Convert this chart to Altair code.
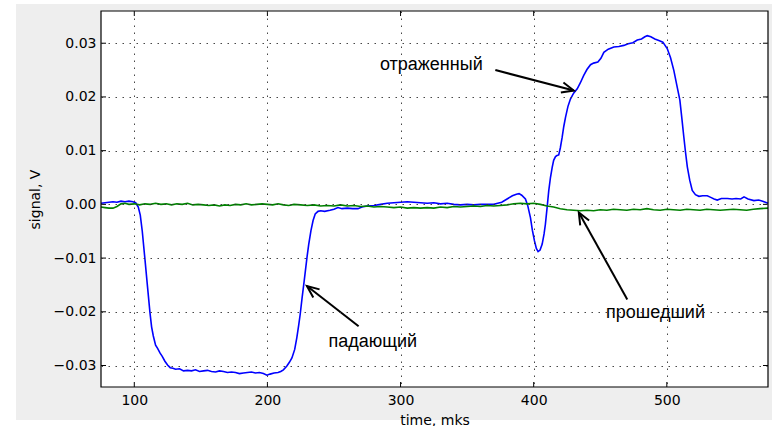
import math
import altair as alt
import pandas as pd

# ---- data ----
blue_t = [75, 78, 81, 84, 87, 90, 93, 96, 99, 101, 103, 104.5, 106, 108, 110, 111.8, 113, 114.3, 116, 117.5,
          119.4, 121, 123, 125, 127, 129, 131, 134, 137, 140, 143, 146, 149, 152, 155, 158, 161, 164, 167, 170,
          173, 176, 179, 182, 185, 188, 191, 194, 197, 199.6, 202, 205, 208, 210, 212, 214.6, 216.5, 218.4, 220.5, 222.1,
          223.5, 224.6, 226, 227.6, 229.7, 231, 232.7, 234.3, 235.9, 238, 240, 243, 247, 250, 253, 256, 260, 264, 268, 271,
          275, 280, 285, 290, 295, 300, 305, 310, 315, 320, 325, 330, 335, 340, 345, 350, 355, 360, 365, 370,
          373, 376, 380, 384, 387, 389, 391, 393.8, 395.5, 397.6, 399, 400.6, 402, 403.3, 404.8, 406.4, 407.8, 408.8, 410, 411.3,
          412.6, 413.9, 415, 416.4, 417.5, 418.8, 420, 421.4, 422.6, 423.9, 425.7, 427.6, 430, 432.7, 435, 437.6, 440, 442.7, 445, 448.2,
          450.5, 452.7, 456, 460.2, 464, 467.7, 471, 474.5, 477.8, 481, 483.5, 485.3, 488, 491, 494, 497, 500.3, 502.8, 505.3, 507.5,
          509.8, 511.3, 512.8, 514, 515.4, 517.2, 519.1, 521.5, 524.1, 527, 530.4, 533, 535.5, 537.9, 541, 545.5, 549, 552, 555.5, 558,
          561, 565.4, 569, 572, 576]
blue_v = [0.0002, 0.0003, 0.0004, 0.0005, 0.0004, 0.0006, 0.0005, 0.0006, 0.0005, 0.0003, -0.0005, -0.0020, -0.0050, -0.0102, -0.0155, -0.0202, -0.0228, -0.0245, -0.0262, -0.0268,
          -0.0277, -0.0283, -0.0292, -0.0299, -0.0304, -0.0305, -0.0307, -0.0306, -0.0310, -0.0309, -0.0310, -0.0308, -0.0311, -0.0310, -0.0309, -0.0311, -0.0312, -0.0310, -0.0311, -0.0313,
          -0.0312, -0.0313, -0.0315, -0.0314, -0.0313, -0.0312, -0.0314, -0.0313, -0.0315, -0.0318, -0.0316, -0.0314, -0.0313, -0.0311, -0.0308, -0.0301, -0.0294, -0.0286, -0.0270, -0.0248,
          -0.0225, -0.0205, -0.0175, -0.0143, -0.0099, -0.0075, -0.0049, -0.0030, -0.0018, -0.0013, -0.0012, -0.0013, -0.0011, -0.0009, -0.0006, -0.0008, -0.0007, -0.0008, -0.0008, -0.0005,
          -0.0003, -0.0002, 0.0000, 0.0002, 0.0003, 0.0004, 0.0005, 0.0004, 0.0003, 0.0002, 0.0003, 0.0001, 0.0002, 0.0000, -0.0001, 0.0000, -0.0001, 0.0000, 0.0000, 0.0000,
          0.0002, 0.0004, 0.0010, 0.0016, 0.0019, 0.0020, 0.0017, 0.0010, -0.0002, -0.0025, -0.0048, -0.0068, -0.0082, -0.0088, -0.0085, -0.0074, -0.0055, -0.0037, -0.0008, 0.0025,
          0.0050, 0.0069, 0.0082, 0.0089, 0.0091, 0.0092, 0.0105, 0.0125, 0.0145, 0.0162, 0.0182, 0.0196, 0.0207, 0.0215, 0.0226, 0.0240, 0.0251, 0.0260, 0.0263, 0.0265,
          0.0272, 0.0283, 0.0289, 0.0293, 0.0294, 0.0296, 0.0299, 0.0301, 0.0306, 0.0308, 0.0312, 0.0314, 0.0312, 0.0308, 0.0305, 0.0302, 0.0290, 0.0273, 0.0249, 0.0222,
          0.0194, 0.0160, 0.0125, 0.0098, 0.0070, 0.0045, 0.0026, 0.0018, 0.0015, 0.0016, 0.0016, 0.0013, 0.0010, 0.0008, 0.0011, 0.0011, 0.0010, 0.0011, 0.0010, 0.0014,
          0.0010, 0.0007, 0.0008, 0.0006, 0.0002]

green_t = [75, 78, 81, 84, 87, 90, 93, 96, 100, 104, 108, 112, 116, 120, 124, 128, 132, 136, 140, 144,
           148, 152, 156, 160, 164, 168, 172, 176, 180, 184, 188, 192, 196, 200, 204, 208, 212, 216, 220, 225,
           230, 235, 240, 245, 250, 255, 260, 265, 270, 275, 280, 285, 290, 295, 300, 305, 310, 315, 320, 325,
           330, 335, 340, 345, 350, 355, 360, 365, 370, 375, 380, 385, 390, 395, 400, 405, 410, 415, 420, 425,
           430, 435, 440, 445, 450, 455, 460, 465, 470, 475, 480, 485, 490, 495, 500, 505, 510, 515, 520, 525,
           530, 535, 540, 545, 550, 555, 560, 565, 570, 576]
green_v = [-0.0005, -0.0006, -0.0007, -0.0007, -0.0004, 0.0001, 0.0002, 0.0000, 0.0001, -0.0001, 0.0001, 0.0000, 0.0002, 0.0000, 0.0001, -0.0001, 0.0001, 0.0000, 0.0002, -0.0001,
           0.0000, -0.0001, -0.0002, -0.0001, -0.0003, -0.0001, -0.0002, 0.0000, -0.0001, 0.0001, -0.0001, 0.0000, 0.0001, 0.0000, -0.0001, 0.0001, -0.0001, -0.0002, 0.0000, -0.0001,
           -0.0002, -0.0001, -0.0003, -0.0002, -0.0003, -0.0001, -0.0003, -0.0002, -0.0004, -0.0003, -0.0005, -0.0004, -0.0005, -0.0006, -0.0005, -0.0007, -0.0006, -0.0007, -0.0006, -0.0007,
           -0.0005, -0.0006, -0.0004, -0.0005, -0.0004, -0.0003, -0.0004, -0.0002, -0.0003, -0.0002, -0.0001, 0.0001, 0.0002, 0.0001, 0.0002, 0.0000, -0.0003, -0.0005, -0.0008, -0.0010,
           -0.0011, -0.0012, -0.0011, -0.0012, -0.0010, -0.0011, -0.0009, -0.0010, -0.0011, -0.0009, -0.0010, -0.0008, -0.0010, -0.0011, -0.0009, -0.0010, -0.0011, -0.0009, -0.0010, -0.0011,
           -0.0009, -0.0010, -0.0011, -0.0010, -0.0009, -0.0010, -0.0011, -0.0009, -0.0008, -0.0007]

x_ticks = [100, 200, 300, 400, 500]
y_ticks = [-0.03, -0.02, -0.01, 0.0, 0.01, 0.02, 0.03]

ann_labels = ["отраженный", "прошедший", "падающий"]
ann_text_t = [323.1, 491.5, 279.1]
ann_text_v = [0.0251, -0.0212, -0.0266]
arrow_tail_t = [371.2, 470.3, 268.5]
arrow_tail_v = [0.0250, -0.0177, -0.0227]
arrow_tip_t = [430.1, 433.9, 229.7]
arrow_tip_v = [0.0212, -0.0015, -0.0152]

X_DOM = [75, 576]
Y_DOM = [-0.034, 0.036]
W, H = 667, 376

# ---- tables ----
blue_df = pd.DataFrame({"t": blue_t, "v": blue_v})
green_df = pd.DataFrame({"t": green_t, "v": green_v})
xt_df = pd.DataFrame({"t": x_ticks})
yt_df = pd.DataFrame({"v": y_ticks})
text_df = pd.DataFrame({"t": ann_text_t, "v": ann_text_v, "label": ann_labels})

sx = W / (X_DOM[1] - X_DOM[0])
sy = H / (Y_DOM[1] - Y_DOM[0])
angles = []
for a, b, c, d in zip(arrow_tail_t, arrow_tail_v, arrow_tip_t, arrow_tip_v):
    dx = (c - a) * sx
    dy = -(d - b) * sy
    angles.append(math.degrees(math.atan2(dy, dx)) % 360)
arrow_df = pd.DataFrame({"t": arrow_tail_t, "v": arrow_tail_v,
                         "t2": arrow_tip_t, "v2": arrow_tip_v, "ang": angles})

xs = alt.Scale(domain=X_DOM, nice=False, zero=False)
ys = alt.Scale(domain=Y_DOM, nice=False, zero=False)
xa = alt.Axis(title="time, mks", values=x_ticks, format="d", grid=True, ticks=False,
              domain=False, labelPadding=6, titlePadding=6, zindex=1)
ya = alt.Axis(title="signal, V", values=y_ticks, format=".2f", grid=True, ticks=False,
              domain=False, labelPadding=5, titlePadding=11, zindex=1)


def X(f):
    return alt.X(f, scale=xs, axis=xa)


def Y(f):
    return alt.Y(f, scale=ys, axis=ya)


one = alt.Data(values=[{"a": 1}])

bg = alt.Chart(one).mark_rect(color="#eeeeee").encode(
    x=alt.value(-85), x2=alt.value(671), y=alt.value(-7), y2=alt.value(409))
plotbg = alt.Chart(one).mark_rect(color="white").encode(
    x=alt.value(0), x2=alt.value(W), y=alt.value(0), y2=alt.value(H))

blue = alt.Chart(blue_df).mark_line(color="#0000ff", strokeWidth=1.6).encode(x=X("t:Q"), y=Y("v:Q"))
green = alt.Chart(green_df).mark_line(color="#008000", strokeWidth=1.6).encode(x=X("t:Q"), y=Y("v:Q"))

xtick_b = alt.Chart(xt_df).mark_rule(color="black", strokeWidth=1).encode(
    x=X("t:Q"), y=alt.value(H), y2=alt.value(H - 5))
xtick_t = alt.Chart(xt_df).mark_rule(color="black", strokeWidth=1).encode(
    x=X("t:Q"), y=alt.value(0), y2=alt.value(5))
ytick_l = alt.Chart(yt_df).mark_rule(color="black", strokeWidth=1).encode(
    y=Y("v:Q"), x=alt.value(0), x2=alt.value(5))
ytick_r = alt.Chart(yt_df).mark_rule(color="black", strokeWidth=1).encode(
    y=Y("v:Q"), x=alt.value(W), x2=alt.value(W - 5))

shafts = alt.Chart(arrow_df).mark_rule(color="black", strokeWidth=2).encode(
    x=X("t:Q"), y=Y("v:Q"), x2="t2:Q", y2="v2:Q")
heads = alt.Chart(arrow_df).mark_point(shape="M -2 -0.85 L 0 0 L -2 0.85", filled=False,
                                        color="black", strokeWidth=2, size=144, opacity=1).encode(
    x=X("t2:Q"), y=Y("v2:Q"), angle=alt.Angle("ang:Q", scale=None))

texts = alt.Chart(text_df).mark_text(font="Liberation Sans", fontSize=18, align="center",
                                     baseline="alphabetic", color="black").encode(
    x=X("t:Q"), y=Y("v:Q"), text="label:N")

frame = alt.Chart(one).mark_rect(filled=False, stroke="black", strokeWidth=1.2).encode(
    x=alt.value(0), x2=alt.value(W), y=alt.value(0), y2=alt.value(H))

chart = alt.layer(bg, plotbg, blue, green, xtick_b, xtick_t, ytick_l, ytick_r,
                  shafts, heads, texts, frame).properties(
    width=W, height=H,
    padding={"left": 101, "top": 11, "right": 10, "bottom": 39},
    autosize=alt.AutoSizeParams(type="none"),
    background="white",
).configure_view(stroke=None).configure_axis(
    labelFont="DejaVu Sans", labelFontSize=14, labelColor="black",
    titleFont="DejaVu Sans", titleFontSize=14, titleFontWeight="normal", titleColor="black",
    gridColor="#333333", gridDash=[1.5, 5.5], gridWidth=1, gridOpacity=0.9,
)

chart.save("out.html", embed_options={"renderer": "svg", "actions": False})
